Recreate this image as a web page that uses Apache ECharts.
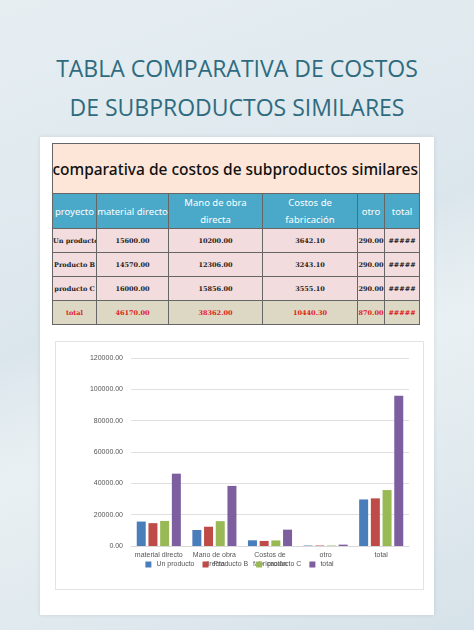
<!DOCTYPE html>
<html><head><meta charset="utf-8">
<script src="https://cdn.jsdelivr.net/npm/echarts@6/dist/echarts.min.js"></script>
<style>
body{margin:0;width:474px;height:630px;overflow:hidden;font-family:Roboto,"Noto Sans",sans-serif;
background:linear-gradient(160deg,#e6eef2 0%,#dbe6ec 45%,#e9f0f3 60%,#d6e2e9 100%);position:relative}
.t{position:absolute;left:0;width:474px;text-align:center;color:#2f6b7e;font-size:23px;font-family:"Open Sans",Roboto,sans-serif}
#card{position:absolute;left:40px;top:137px;width:394px;height:478px;background:#fff;box-shadow:0 0 4px rgba(0,0,0,.1)}
table{position:absolute;left:52px;top:143px;width:367px;border-collapse:collapse;table-layout:fixed;font-family:"DejaVu Serif",serif}
td{border:1px solid #666;text-align:center;font-size:6.5px;font-weight:bold;padding:0;overflow:hidden;white-space:nowrap}
.h td{background:#4aa8c8;color:#fff;font-family:"Noto Sans",sans-serif;font-size:9.5px;font-weight:normal;line-height:17px;white-space:normal}
.d td{background:#f2dcdd;height:23px;color:#222}
.s td{background:#ddd8c4;color:#e02020;height:23px}
.ttl{width:365px;overflow:hidden;white-space:nowrap;direction:rtl;text-align:left;font-family:"Noto Sans",sans-serif;font-size:15.5px;font-weight:500;color:#111}
#chart{position:absolute;left:55px;top:341px;width:367px;height:247px;border:1px solid #e3e3e3}
</style></head><body>
<div class="t" style="top:52px">TABLA COMPARATIVA DE COSTOS</div>
<div class="t" style="top:91px">DE SUBPRODUCTOS SIMILARES</div>
<div id="card"></div>
<table id="tb"></table>
<div id="chart"></div>
<script>
const categories=["material directo","Mano de obra\ndirecta","Costos de\nfabricación","otro","total"];
const headers=["proyecto","material directo","Mano de obra directa","Costos de fabricación","otro","total"];
const products=["Un producto","Producto B","producto C","total"];
const unProducto=[15600.00,10200.00,3642.10,290.00,29732.10];
const productoB=[14570.00,12306.00,3243.10,290.00,30409.10];
const productoC=[16000.00,15856.00,3555.10,290.00,35701.10];
const totalRow=[46170.00,38362.00,10440.30,870.00,95842.30];
const yTicks=[0,20000,40000,60000,80000,100000,120000];
const colors=["#4a7ebb","#be4b48","#98b954","#7d5fa0"];

const widths=[44,72,94,95,27,35];
let html='<colgroup>'+widths.map(w=>`<col style="width:${w}px">`).join('')+'</colgroup>';
html+=`<tr><td colspan="6" style="background:#fde5d8;height:49px"><div class="ttl"><span style="direction:ltr;unicode-bidi:embed">Tabla comparativa de costos de subproductos similares</span></div></td></tr>`;
html+='<tr class="h" style="height:29px">'+headers.map(h=>`<td>${h}</td>`).join('')+'</tr>';
const rows=[unProducto,productoB,productoC];
rows.forEach((r,i)=>{html+=`<tr class="d"><td>${products[i]}</td>`+r.slice(0,4).map(v=>`<td>${v.toFixed(2)}</td>`).join('')+'<td>#####</td></tr>';});
html+='<tr class="s"><td>total</td>'+totalRow.slice(0,4).map(v=>`<td>${v.toFixed(2)}</td>`).join('')+'<td>#####</td></tr>';
document.getElementById('tb').innerHTML=html;

const c=echarts.init(document.getElementById('chart'));
const data=[unProducto,productoB,productoC,totalRow];
c.setOption({
 animation:false,color:colors,
 grid:{left:75,right:14,top:16,bottom:43,containLabel:false},
 legend:{bottom:16,itemWidth:6,itemHeight:6,itemGap:8,icon:'rect',textStyle:{fontSize:7,color:'#555'},data:products},
 xAxis:{type:'category',data:categories,axisTick:{show:false},axisLine:{lineStyle:{color:'#d9d9d9'}},
  axisLabel:{fontSize:7,color:'#555',interval:0,lineHeight:9,margin:5}},
 yAxis:{type:'value',min:0,max:120000,interval:20000,axisLine:{show:false},
  axisLabel:{fontSize:7,color:'#555',formatter:v=>v.toFixed(2)},splitLine:{lineStyle:{color:'#e0e0e0'}}},
 series:products.map((p,i)=>({name:p,type:'bar',data:data[i],barWidth:9,barGap:'30%'}))
});
</script></body></html>
